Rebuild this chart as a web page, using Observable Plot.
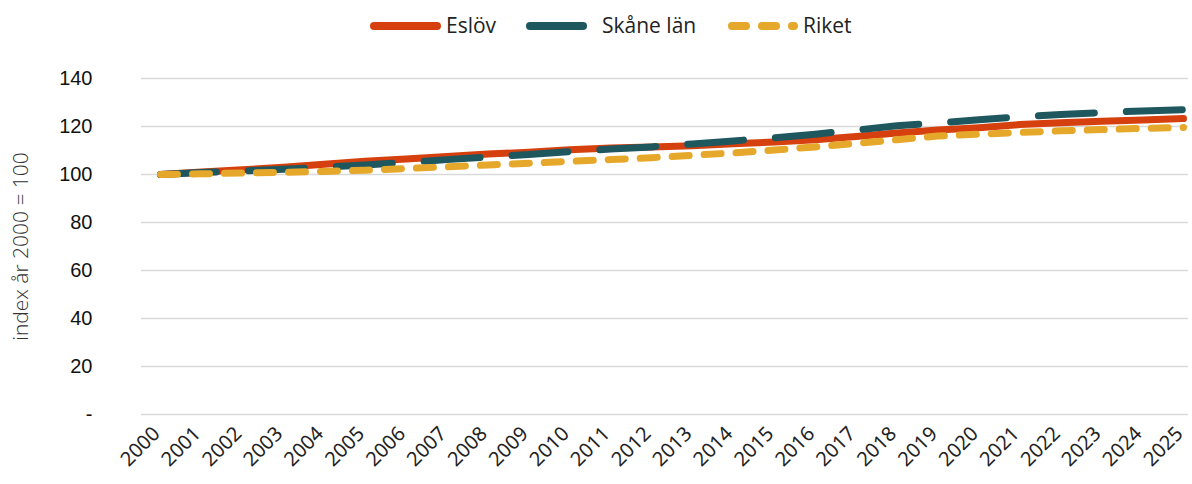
<!DOCTYPE html>
<html>
<head>
<meta charset="utf-8">
<script src="https://cdn.jsdelivr.net/npm/d3@7"></script>
<script src="https://cdn.jsdelivr.net/npm/@observablehq/plot@0.6"></script>
<style>
  html, body { margin: 0; padding: 0; background: #fff; }
  #legend { position: relative; height: 50px; font-family: "Open Sans", sans-serif; font-weight: 400; font-size: 21px; color: #222; }
  .sw { position: absolute; top: 20px; line-height: 0; }
  .sw svg { display: block; }
  .lb { position: absolute; top: 10px; line-height: 30px; white-space: nowrap; }
</style>
</head>
<body>
<div id="legend"></div>
<div id="chart"></div>
<script>
const years = d3.range(2000, 2026);
const eslov = [100, 101, 102, 103, 104.3, 105.5, 106.5, 107.5, 108.5, 109.3, 110.3, 111, 111.5, 112, 112.8, 113.5, 114.5, 115.8, 117.3, 118.5, 119.5, 120.8, 121.6, 122.2, 122.7, 123.3];
const skane = [100, 100.8, 101.5, 102.2, 103, 104, 105, 106.2, 107.3, 108.3, 109.5, 110.6, 111.5, 112.7, 114, 115.3, 116.8, 118.5, 120.3, 121.5, 122.8, 124, 125, 125.8, 126.5, 127];
const riket = [100, 100.3, 100.6, 100.9, 101.3, 101.8, 102.5, 103.2, 104, 104.7, 105.5, 106.2, 107, 108, 109, 110.2, 111.5, 113, 114.5, 116, 116.8, 117.5, 118.2, 118.7, 119.2, 119.6];
const seriesNames = ["Eslöv", "Skåne län", "Riket"];
const yTicks = [0, 20, 40, 60, 80, 100, 120, 140];

const colors = {"Eslöv": "#D5400E", "Skåne län": "#1F575F", "Riket": "#E6A82A"};
const dashes = {"Eslöv": null, "Skåne län": "56,32", "Riket": "17,15"};

const toRows = (name, vals) => years.map((y, i) => ({year: y, value: vals[i], series: name}));
const rowsE = toRows("Eslöv", eslov);
const rowsS = toRows("Skåne län", skane);
const rowsR = toRows("Riket", riket);

const legend = document.getElementById("legend");
const legendLayout = {
  "Eslöv": {x1: 374, x2: 437, text: 446, dash: "none"},
  "Skåne län": {x1: 530, x2: 583, text: 602, dash: "none"},
  "Riket": {x1: 732, x2: 794, text: 803, dash: "14,16"}
};
seriesNames.forEach(n => {
  const L = legendLayout[n];
  const sw = document.createElement("div");
  sw.className = "sw";
  sw.style.left = "0px";
  sw.innerHTML = `<svg width="820" height="12"><line x1="${L.x1}" y1="6" x2="${L.x2}" y2="6" stroke="${colors[n]}" stroke-width="8" stroke-linecap="round" stroke-dasharray="${L.dash}"/></svg>`;
  legend.appendChild(sw);
  const lb = document.createElement("div");
  lb.className = "lb";
  lb.style.left = L.text + "px";
  lb.textContent = n;
  legend.appendChild(lb);
});

const chart = Plot.plot({
  width: 1192,
  height: 434,
  marginTop: 28,
  marginBottom: 70,
  marginLeft: 141,
  marginRight: 4,
  style: {fontFamily: "Liberation Sans, Arial, sans-serif", background: "#fff"},
  x: {type: "point", domain: years, range: [160, 1183], padding: 0, round: false},
  y: {domain: [0, 140]},
  marks: [
    Plot.ruleY(yTicks, {stroke: "#d9d9d9", strokeWidth: 1.5}),
    Plot.axisY(yTicks, {
      tickSize: 0, tickPadding: 49, fontSize: 20, fill: "#111",
      tickFormat: d => d === 0 ? "-" : d,
      label: "index år 2000 = 100", labelAnchor: "center", labelArrow: "none", labelOffset: 128
    }),
    Plot.axisX(years, {
      tickSize: 0, tickPadding: 6, tickRotate: -45, fontSize: 20, fill: "#222",
      fontFamily: "Noto Sans, sans-serif", dx: -4, dy: 10,
      tickFormat: d => String(d), label: null
    }),
    Plot.line(rowsE, {x: "year", y: "value", stroke: colors["Eslöv"], strokeWidth: 7, strokeLinecap: "round"}),
    Plot.line(rowsS, {x: "year", y: "value", stroke: colors["Skåne län"], strokeWidth: 7, strokeLinecap: "round", strokeDasharray: dashes["Skåne län"]}),
    Plot.line(rowsR, {x: "year", y: "value", stroke: colors["Riket"], strokeWidth: 7, strokeLinecap: "round", strokeDasharray: dashes["Riket"]})
  ]
});
document.getElementById("chart").appendChild(chart);
d3.select(chart).selectAll("g[aria-label='y-axis label'] text")
  .attr("font-family", "Open Sans, Lato, sans-serif").attr("font-size", 21).attr("font-weight", 300).attr("fill", "#333");
</script>
</body>
</html>
